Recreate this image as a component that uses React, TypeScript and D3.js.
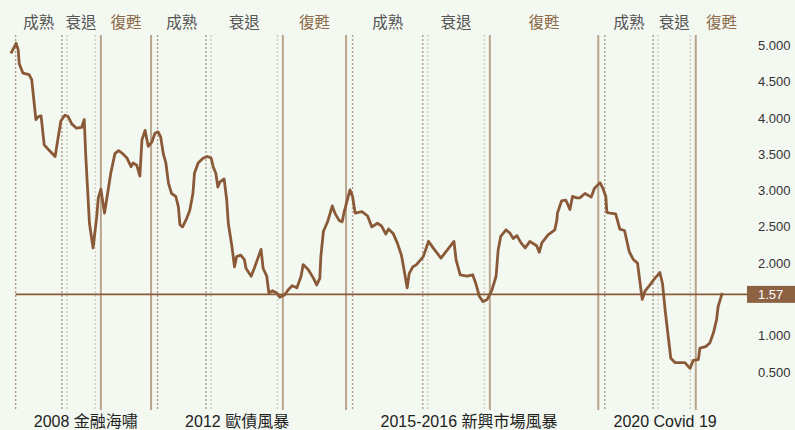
import React from "react";
import * as d3 from "d3";

// Indicator series: [fractional year, value]
const navYears = [
  2007.21, 2007.31, 2007.35, 2007.37, 2007.44, 2007.56, 2007.61, 2007.69, 2007.74, 2007.79,
  2007.85, 2007.94, 2008.06, 2008.12, 2008.17, 2008.25, 2008.31, 2008.38, 2008.47, 2008.57,
  2008.62, 2008.65, 2008.72, 2008.79, 2008.86, 2008.89, 2008.94, 2009.01, 2009.06, 2009.13,
  2009.21, 2009.28, 2009.36, 2009.44, 2009.52, 2009.56, 2009.63, 2009.69, 2009.73, 2009.79,
  2009.85, 2009.92, 2009.98, 2010.04, 2010.09, 2010.14, 2010.19, 2010.24, 2010.30, 2010.38,
  2010.43, 2010.46, 2010.51, 2010.58, 2010.65, 2010.71, 2010.74, 2010.81, 2010.91, 2010.99,
  2011.06, 2011.10, 2011.15, 2011.19, 2011.23, 2011.31, 2011.36, 2011.39, 2011.46, 2011.51,
  2011.55, 2011.63, 2011.70, 2011.73, 2011.83, 2011.89, 2011.97, 2012.02, 2012.06, 2012.13,
  2012.17, 2012.24, 2012.32, 2012.38, 2012.47, 2012.54, 2012.62, 2012.71, 2012.79, 2012.83,
  2012.93, 2013.03, 2013.09, 2013.15, 2013.17, 2013.22, 2013.30, 2013.39, 2013.44, 2013.52,
  2013.58, 2013.62, 2013.69, 2013.73, 2013.78, 2013.83, 2013.96, 2014.07, 2014.15, 2014.26,
  2014.34, 2014.42, 2014.47, 2014.56, 2014.64, 2014.72, 2014.77, 2014.83, 2014.87, 2014.94,
  2015.01, 2015.14, 2015.24, 2015.33, 2015.48, 2015.60, 2015.73, 2015.77, 2015.85, 2015.98,
  2016.09, 2016.15, 2016.22, 2016.29, 2016.37, 2016.46, 2016.54, 2016.58, 2016.63, 2016.73,
  2016.81, 2016.87, 2016.94, 2017.02, 2017.10, 2017.19, 2017.32, 2017.37, 2017.42, 2017.54,
  2017.67, 2017.71, 2017.72, 2017.80, 2017.88, 2017.96, 2018.01, 2018.09, 2018.15, 2018.25,
  2018.37, 2018.43, 2018.54, 2018.60, 2018.65, 2018.67, 2018.73, 2018.84, 2018.89, 2018.92,
  2019.01, 2019.10, 2019.18, 2019.26, 2019.35, 2019.40, 2019.50, 2019.58, 2019.69, 2019.74,
  2019.79, 2019.85, 2019.90, 2019.98, 2020.17, 2020.27, 2020.33, 2020.43, 2020.46, 2020.57,
  2020.65, 2020.72, 2020.78, 2020.81, 2020.89,
];
const navValues = [
  4.89, 5.03, 4.94, 4.75, 4.62, 4.60, 4.53, 3.98, 4.02, 4.03,
  3.63, 3.56, 3.47, 3.74, 3.96, 4.04, 4.02, 3.92, 3.86, 3.87,
  3.98, 3.47, 2.55, 2.21, 2.64, 2.90, 3.02, 2.69, 2.92, 3.24,
  3.51, 3.55, 3.51, 3.45, 3.33, 3.38, 3.35, 3.20, 3.70, 3.83,
  3.61, 3.67, 3.79, 3.81, 3.74, 3.51, 3.38, 3.10, 2.96, 2.92,
  2.78, 2.53, 2.50, 2.60, 2.73, 2.96, 3.24, 3.38, 3.45, 3.47,
  3.45, 3.33, 3.24, 3.05, 3.12, 3.16, 2.87, 2.55, 2.23, 1.95,
  2.09, 2.11, 2.05, 1.93, 1.82, 1.93, 2.09, 2.19, 1.93, 1.82,
  1.59, 1.62, 1.59, 1.53, 1.56, 1.63, 1.69, 1.66, 1.82, 1.98,
  1.91, 1.79, 1.70, 1.79, 2.09, 2.44, 2.57, 2.79, 2.69, 2.59,
  2.57, 2.71, 2.90, 3.01, 2.92, 2.69, 2.71, 2.65, 2.50, 2.55,
  2.51, 2.40, 2.47, 2.41, 2.28, 2.11, 1.91, 1.66, 1.86, 1.95,
  1.98, 2.09, 2.30, 2.21, 2.07, 2.18, 2.30, 2.05, 1.84, 1.82,
  1.84, 1.72, 1.54, 1.47, 1.50, 1.63, 1.82, 2.18, 2.37, 2.46,
  2.41, 2.34, 2.38, 2.28, 2.21, 2.30, 2.24, 2.15, 2.28, 2.39,
  2.46, 2.60, 2.69, 2.86, 2.87, 2.74, 2.92, 2.90, 2.90, 2.96,
  2.91, 3.03, 3.11, 3.02, 2.92, 2.70, 2.69, 2.68, 2.55, 2.47,
  2.45, 2.16, 2.05, 2.00, 1.50, 1.61, 1.70, 1.78, 1.87, 1.72,
  1.36, 0.99, 0.69, 0.63, 0.63, 0.55, 0.66, 0.67, 0.83, 0.85,
  0.90, 1.04, 1.22, 1.40, 1.59,
];

const currentValue = 1.57;
const yTicks = [5, 4.5, 4, 3.5, 3, 2.5, 2, 1.5, 1, 0.5];

// Cycle phase boundaries (fractional years)
const maturityStarts = [2007.30, 2010.03, 2013.78, 2018.63];
const recessionStarts = [2008.19, 2010.96, 2015.13, 2019.56];
const recoveryStarts = [2008.94, 2012.44, 2016.42, 2020.38];
const chartEnd = 2021.37;

const phaseMaturity = "成熟";
const phaseRecession = "衰退";
const phaseRecovery = "復甦";

const eventYears = [2008.65, 2011.56, 2016.02, 2019.79];
const eventLabels = ["2008 金融海嘯", "2012 歐債風暴", "2015-2016 新興市場風暴", "2020 Covid 19"];

const W = 795;
const H = 430;
const FONT = "'Liberation Sans', Arial, 'Noto Sans CJK TC', sans-serif";
const LINE = "#8a5a38";
const SOLID = "#b9a48c";
const DOT = "#ab9c8c";
const DOT_LIGHT = "#d3ccc4";
const LABEL_GRAY = "#555555";
const LABEL_BROWN = "#8d6a4a";

export default function App() {
  const x = d3.scaleLinear().domain([2007, 2021]).range([0, 728]);
  const y = d3.scaleLinear().domain([0.5, 5]).range([372, 45.5]);

  const data = navYears.map((t, i) => [t, navValues[i]] as [number, number]);
  const path = d3
    .line<[number, number]>()
    .x((d) => x(d[0]))
    .y((d) => y(d[1]))
    .curve(d3.curveLinear)(data) as string;

  const vTop = 35;
  const vBot = 410;

  const vlines: { x: number; kind: "solid" | "dot" | "light" }[] = [];
  maturityStarts.forEach((t, i) => {
    if (i > 0) vlines.push({ x: x(t) - 6.5, kind: "solid" });
    vlines.push({ x: x(t), kind: "dot" });
  });
  recessionStarts.forEach((t) => {
    vlines.push({ x: x(t), kind: "dot" });
    vlines.push({ x: x(t) + 5, kind: "light" });
  });
  recoveryStarts.forEach((t) => {
    vlines.push({ x: x(t) - 5.5, kind: "light" });
    vlines.push({ x: x(t), kind: "solid" });
  });

  const phaseLabels: { cx: number; text: string; color: string }[] = [];
  maturityStarts.forEach((t, i) => {
    const m0 = x(t);
    const r0 = x(recessionStarts[i]);
    const c0 = x(recoveryStarts[i]);
    const next = i + 1 < maturityStarts.length ? x(maturityStarts[i + 1]) - 6.5 : x(chartEnd);
    phaseLabels.push({ cx: (m0 + r0) / 2, text: phaseMaturity, color: LABEL_GRAY });
    phaseLabels.push({ cx: (r0 + 5 + c0 - 5.5) / 2, text: phaseRecession, color: LABEL_GRAY });
    phaseLabels.push({ cx: (c0 + next) / 2, text: phaseRecovery, color: LABEL_BROWN });
  });

  const yc = y(currentValue);
  const fmt = d3.format(".3f");
  // tick labels hidden behind the current-value badge are not drawn
  const visibleTicks = yTicks.filter((v) => Math.abs(y(v) - yc) > 14);

  return (
    <svg
      width={W}
      height={H}
      style={{ position: "absolute", left: 0, top: 0, background: "#f3f8f1" }}
      fontFamily={FONT}
    >
      <rect x={0} y={0} width={W} height={H} fill="#f3f8f1" />
      {vlines.map((l, i) => (
        <line
          key={i}
          x1={l.x}
          x2={l.x}
          y1={vTop}
          y2={vBot}
          stroke={l.kind === "solid" ? SOLID : l.kind === "dot" ? DOT : DOT_LIGHT}
          strokeWidth={l.kind === "solid" ? 2 : 1.4}
          strokeDasharray={l.kind === "solid" ? undefined : "2,2"}
        />
      ))}
      {visibleTicks.map((v) => (
        <text key={v} x={758} y={y(v)} dy="0.35em" fontSize={13} fill="#333">
          {fmt(v)}
        </text>
      ))}
      <line x1={x(2007.3)} x2={748} y1={yc} y2={yc} stroke={LINE} strokeWidth={1.6} />
      <rect x={747} y={yc - 8.5} width={48} height={17} fill="#8c6243" />
      <text x={758} y={yc} dy="0.35em" fontSize={13} fill="#fff">
        {currentValue.toFixed(2)}
      </text>
      <path d={path} fill="none" stroke={LINE} strokeWidth={2.8} strokeLinejoin="round" />
      {phaseLabels.map((p, i) => (
        <text key={i} x={p.cx} y={28} textAnchor="middle" fontSize={15.5} fill={p.color}>
          {p.text}
        </text>
      ))}
      {eventYears.map((t, i) => (
        <text key={i} x={x(t)} y={427} textAnchor="middle" fontSize={16} fill="#222">
          {eventLabels[i]}
        </text>
      ))}
    </svg>
  );
}
